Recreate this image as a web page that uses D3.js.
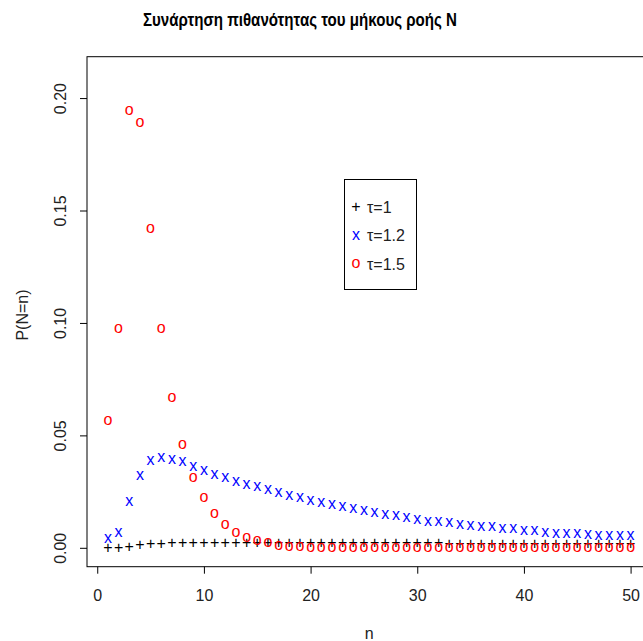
<!DOCTYPE html>
<html>
<head>
<meta charset="utf-8">
<script src="https://cdn.jsdelivr.net/npm/d3@7"></script>
<style>
  body { margin: 0; background: #fff; }
  svg { display: block; font-family: "Liberation Sans", Arial, sans-serif; }
</style>
</head>
<body>
<svg width="643" height="641"></svg>
<script>
// n = 1..50
var nValues = d3.range(1, 51);

// tau = 1 (black +)
var tau1 = [0.0000, 0.0000, 0.0003, 0.0013, 0.0018, 0.0019, 0.0021, 0.0021, 0.0021, 0.0021,
  0.0021, 0.0021, 0.0021, 0.0021, 0.0021, 0.0021, 0.0021, 0.0021, 0.0021, 0.0021,
  0.0021, 0.0021, 0.0021, 0.0021, 0.0021, 0.0021, 0.0021, 0.0021, 0.0021, 0.0021,
  0.0021, 0.0021, 0.0020, 0.0020, 0.0020, 0.0020, 0.0020, 0.0020, 0.0020, 0.0019,
  0.0019, 0.0019, 0.0019, 0.0019, 0.0019, 0.0019, 0.0019, 0.0018, 0.0018, 0.0018];

// tau = 1.2 (blue x)
var tau12 = [0.0040, 0.0069, 0.0203, 0.0319, 0.0387, 0.0402, 0.0393, 0.0381, 0.0359, 0.0344,
  0.0325, 0.0310, 0.0294, 0.0282, 0.0270, 0.0258, 0.0243, 0.0232, 0.0223, 0.0208,
  0.0199, 0.0191, 0.0184, 0.0174, 0.0163, 0.0156, 0.0147, 0.0141, 0.0134, 0.0126,
  0.0118, 0.0114, 0.0110, 0.0104, 0.0099, 0.0096, 0.0092, 0.0087, 0.0083, 0.0077,
  0.0074, 0.0069, 0.0065, 0.0062, 0.0061, 0.0058, 0.0055, 0.0052, 0.0052, 0.0052];

// tau = 1.5 (red o)
var tau15 = [0.0567, 0.0975, 0.1944, 0.1890, 0.1420, 0.0975, 0.0668, 0.0460, 0.0314, 0.0221,
  0.0151, 0.0104, 0.0069, 0.0047, 0.0033, 0.0021, 0.0010, 0.0006, 0.0003, 0.0001,
  0.0001, 0.0000, 0.0000, 0.0000, 0.0000, 0.0000, 0.0000, 0.0000, 0.0000, 0.0000,
  0.0000, 0.0000, 0.0000, 0.0000, 0.0000, 0.0000, 0.0000, 0.0000, 0.0000, 0.0000,
  0.0000, 0.0000, 0.0000, 0.0000, 0.0000, 0.0000, 0.0000, 0.0000, 0.0000, 0.0000];

var xTicks = [0, 10, 20, 30, 40, 50];
var yTicks = [0.00, 0.05, 0.10, 0.15, 0.20];

var series = [
  { label: "τ=1", sym: "+", color: "black", values: tau1, dy: "0.33em" },
  { label: "τ=1.2", sym: "x", color: "blue", values: tau12, dy: "0.27em" },
  { label: "τ=1.5", sym: "o", color: "red", values: tau15, dy: "0.27em" }
];

var svg = d3.select("svg");

var plotLeft = 87, plotRight = 651.5, plotTop = 56.7, plotBottom = 566.7;

var x = d3.scaleLinear().domain([-0.96, 51.96]).range([plotLeft, plotRight]);
var y = d3.scaleLinear().domain([-0.0084, 0.2184]).range([plotBottom, plotTop]);

svg.append("rect").attr("width", 643).attr("height", 641).attr("fill", "#fff");

// points
series.forEach(function(s) {
  svg.append("g")
    .selectAll("text")
    .data(s.values)
    .enter()
    .append("text")
      .attr("x", function(d, i) { return x(nValues[i]); })
      .attr("y", function(d) { return y(d); })
      .attr("dy", s.dy)
      .attr("text-anchor", "middle")
      .attr("font-size", 16)
      .attr("fill", s.color)
      .text(s.sym);
});

// box
svg.append("rect")
  .attr("x", plotLeft).attr("y", plotTop)
  .attr("width", plotRight - plotLeft).attr("height", plotBottom - plotTop)
  .attr("fill", "none").attr("stroke", "black").attr("stroke-width", 1);

// x axis
var gx = svg.append("g")
  .attr("transform", "translate(0," + plotBottom + ")")
  .call(d3.axisBottom(x).tickValues(xTicks).tickSize(7).tickSizeOuter(0).tickFormat(d3.format("d")));
gx.select(".domain").remove();
gx.selectAll("text").attr("y", 29).attr("dy", "0.35em").attr("font-size", 16)
  .attr("font-family", null).attr("fill", "#222");

// y axis
var gy = svg.append("g")
  .attr("transform", "translate(" + plotLeft + ",0)")
  .call(d3.axisLeft(y).tickValues(yTicks).tickSize(7).tickSizeOuter(0).tickFormat(d3.format(".2f")));
gy.select(".domain").remove();
gy.selectAll("text")
  .attr("transform", "rotate(-90)")
  .attr("x", 0).attr("y", -27).attr("dy", "0.35em")
  .attr("text-anchor", "middle")
  .attr("font-size", 16).attr("font-family", null).attr("fill", "#222");

// titles
svg.append("text")
  .attr("x", 300).attr("y", 26)
  .attr("text-anchor", "middle")
  .attr("font-weight", "bold").attr("font-size", 18)
  .attr("textLength", 314).attr("lengthAdjust", "spacingAndGlyphs")
  .text("Συνάρτηση πιθανότητας του μήκους ροής N");

svg.append("text")
  .attr("x", (plotLeft + plotRight) / 2).attr("y", 633).attr("dy", "0.35em")
  .attr("text-anchor", "middle").attr("font-size", 16).attr("fill", "#222")
  .text("n");

svg.append("text")
  .attr("transform", "translate(22,315) rotate(-90)")
  .attr("dy", "0.35em")
  .attr("text-anchor", "middle").attr("font-size", 16).attr("fill", "#222")
  .text("P(N=n)");

// legend
var legend = svg.append("g");
legend.append("rect")
  .attr("x", 344.5).attr("y", 179.5).attr("width", 72).attr("height", 110)
  .attr("fill", "#fff").attr("stroke", "black");
var rows = legend.selectAll("g.row")
  .data(series)
  .enter()
  .append("g")
    .attr("class", "row")
    .attr("transform", function(d, i) { return "translate(0," + (207 + i * 28.5) + ")"; });
rows.append("text")
  .attr("x", 356).attr("dy", function(d) { return d.dy; })
  .attr("text-anchor", "middle").attr("font-size", 16)
  .attr("fill", function(d) { return d.color; })
  .text(function(d) { return d.sym; });
rows.append("text")
  .attr("x", 367).attr("dy", "0.35em")
  .attr("font-size", 16).attr("fill", "#222")
  .text(function(d) { return d.label; });
</script>
</body>
</html>
